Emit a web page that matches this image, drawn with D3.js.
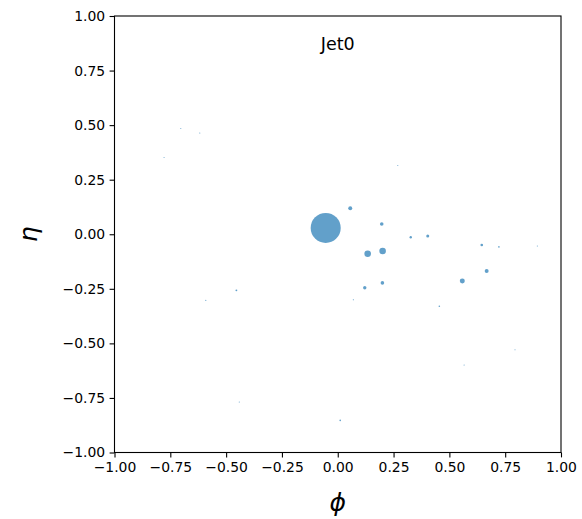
<!DOCTYPE html>
<html>
<head>
<meta charset="utf-8">
<script src="https://cdn.jsdelivr.net/npm/d3@7"></script>
<style>
  body { margin: 0; background: #fff; }
  svg { display: block; font-family: "DejaVu Sans", sans-serif; }
</style>
</head>
<body>
<svg id="chart" width="582" height="519"></svg>
<script>
// constituents of the jet: phi, eta and pT of each particle
const phiValues = [-0.054, 0.056, 0.197, 0.134, 0.201, 0.327, 0.403, 0.121, 0.200, 0.070,
    0.645, 0.722, 0.894, 0.667, 0.558, 0.455, 0.794, -0.703, -0.618, -0.778,
    -0.454, -0.591, -0.441, 0.011, 0.269, 0.566];
const etaValues = [0.029, 0.119, 0.047, -0.089, -0.077, -0.014, -0.008, -0.245, -0.223, -0.300,
    -0.049, -0.058, -0.054, -0.168, -0.214, -0.330, -0.529, 0.485, 0.464, 0.352,
    -0.257, -0.303, -0.769, -0.853, 0.315, -0.599];
const ptValues = [250, 4.4, 3.6, 12, 12, 1.6, 2.5, 3.2, 3.6, 0.4,
    1.9, 0.7, 0.3, 4.4, 6.9, 0.7, 0.3, 0.3, 0.3, 0.3,
    1.0, 0.3, 0.3, 0.7, 0.3, 0.3];
const tickValues = [-1, -0.75, -0.5, -0.25, 0, 0.25, 0.5, 0.75, 1];
const title = "Jet0";

const svg = d3.select("#chart");
const margin = { left: 114.5, right: 21, top: 16, bottom: 66.5 };
const width = 582, height = 519;

const x = d3.scaleLinear().domain([-1, 1]).range([margin.left, width - margin.right]);
const y = d3.scaleLinear().domain([-1, 1]).range([height - margin.bottom, margin.top]);
const r = d3.scaleSqrt().domain([0, d3.max(ptValues)]).range([0, 15]);

const particles = phiValues.map((phi, i) => ({ phi, eta: etaValues[i], pt: ptValues[i] }));

// scatter
svg.append("g")
    .selectAll("circle")
    .data(particles)
    .join("circle")
    .attr("cx", d => x(d.phi))
    .attr("cy", d => y(d.eta))
    .attr("r", d => r(d.pt))
    .attr("fill", "#1f77b4")
    .attr("fill-opacity", 0.7);

const fmt = d3.format(".2f");

const xAxis = svg.append("g")
    .attr("transform", `translate(0,${y(-1)})`)
    .call(d3.axisBottom(x).tickValues(tickValues).tickFormat(fmt)
        .tickSizeInner(4.9).tickSizeOuter(0).tickPadding(4.5));

const yAxis = svg.append("g")
    .attr("transform", `translate(${x(-1)},0)`)
    .call(d3.axisLeft(y).tickValues(tickValues).tickFormat(fmt)
        .tickSizeInner(4.9).tickSizeOuter(0).tickPadding(4.5));

[xAxis, yAxis].forEach(g => {
    g.select(".domain").remove();
    g.selectAll(".tick line").attr("stroke", "#000").attr("stroke-width", 1.1);
    g.selectAll(".tick text")
        .attr("fill", "#000")
        .style("font-family", "'DejaVu Sans', sans-serif")
        .style("font-size", "13.9px");
});

// frame
svg.append("rect")
    .attr("x", x(-1))
    .attr("y", y(1))
    .attr("width", x(1) - x(-1))
    .attr("height", y(-1) - y(1))
    .attr("fill", "none")
    .attr("stroke", "#000")
    .attr("stroke-width", 1.1);

// title inside the axes
svg.append("text")
    .attr("x", x(0))
    .attr("y", 50)
    .attr("text-anchor", "middle")
    .style("font-size", "17.5px")
    .text(title);

// axis labels
svg.append("text")
    .attr("x", x(0))
    .attr("y", 511)
    .attr("text-anchor", "middle")
    .style("font-size", "25px")
    .style("font-style", "italic")
    .text("ϕ");

svg.append("text")
    .attr("transform", `translate(37,${y(0)}) rotate(-90)`)
    .attr("text-anchor", "middle")
    .style("font-size", "25px")
    .style("font-style", "italic")
    .text("η");
</script>
</body>
</html>
